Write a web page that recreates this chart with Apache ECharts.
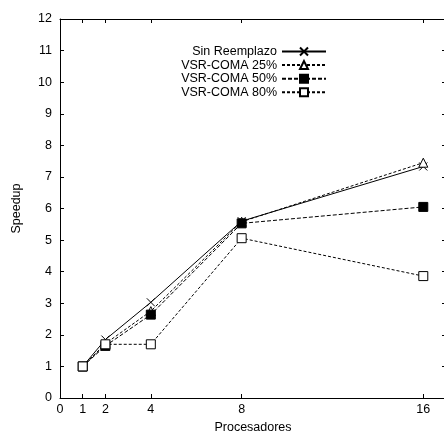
<!DOCTYPE html>
<html>
<head>
<meta charset="utf-8">
<script src="https://cdn.jsdelivr.net/npm/echarts@6/dist/echarts.min.js"></script>
<style>html,body{margin:0;padding:0;background:#fff}#c{width:444px;height:433px}</style>
</head>
<body>
<div id="c"></div>
<script>
const processors = [1, 2, 4, 8, 16];
const xTicks = [0, 1, 2, 4, 8, 16];
const sinReemplazo = [1.0, 1.85, 3.03, 5.6, 7.33];
const vsr25 = [1.0, 1.72, 2.75, 5.58, 7.45];
const vsr50 = [1.0, 1.65, 2.64, 5.53, 6.05];
const vsr80 = [1.0, 1.70, 1.70, 5.06, 3.86];
const seriesNames = ['Sin Reemplazo', 'VSR-COMA 25%', 'VSR-COMA 50%', 'VSR-COMA 80%'];

const font = "'Liberation Sans', Arial, Helvetica, sans-serif";
const fs = 12.5;
const pairs = v => processors.map((p, i) => [p, v[i]]);
const crossPath = 'path://M0,0L10,10M10,0L0,10';

function mk(name, data, lineType, symbol, fill, size) {
  return {
    name, type: 'line', data: pairs(data),
    symbol, symbolSize: size,
    lineStyle: { color: '#000', width: 1, type: lineType },
    itemStyle: { color: fill, borderColor: '#000', borderWidth: 1 },
    emphasis: { disabled: true },
    animation: false
  };
}

const chart = echarts.init(document.getElementById('c'));
const line = { onZero: false, lineStyle: { color: '#000', width: 1 } };
const tick = { inside: true, length: 4, lineStyle: { color: '#000' } };
chart.setOption({
  animation: false,
  grid: { left: 60, top: 19, width: 386, bottom: 35, containLabel: false, outerBoundsMode: 'none' },
  legend: {
    orient: 'vertical', align: 'right', right: 112, top: 40,
    itemWidth: 44, itemHeight: 10, itemGap: 0.6,
    textStyle: { fontFamily: font, fontSize: fs, lineHeight: 12, color: '#000' },
    data: seriesNames, selectedMode: false
  },
  xAxis: [
    {
      type: 'value', min: 0, max: 17, position: 'bottom',
      name: 'Procesadores', nameLocation: 'middle', nameGap: 18,
      nameTextStyle: { fontFamily: font, fontSize: fs, color: '#000' },
      axisLine: line, splitLine: { show: false },
      axisTick: Object.assign({ customValues: xTicks }, tick),
      axisLabel: { customValues: xTicks, fontFamily: font, fontSize: fs, color: '#000', margin: 5 }
    },
    {
      type: 'value', min: 0, max: 17, position: 'top',
      axisLine: line, splitLine: { show: false },
      axisTick: Object.assign({ customValues: xTicks }, tick),
      axisLabel: { show: false, customValues: xTicks }
    }
  ],
  yAxis: [
    {
      type: 'value', min: 0, max: 12, interval: 1, position: 'left',
      name: 'Speedup', nameLocation: 'middle', nameGap: 37,
      nameTextStyle: { fontFamily: font, fontSize: fs, color: '#000' },
      axisLine: line, axisTick: tick, splitLine: { show: false },
      axisLabel: { fontFamily: font, fontSize: fs, color: '#000', margin: 8 }
    },
    {
      type: 'value', min: 0, max: 12, interval: 1, position: 'right',
      axisLine: line, axisTick: tick, splitLine: { show: false },
      axisLabel: { show: false }
    }
  ],
  series: [
    mk(seriesNames[0], sinReemplazo, 'solid', crossPath, 'rgba(0,0,0,0)', 8),
    mk(seriesNames[1], vsr25, [3, 2], 'triangle', '#fff', 9),
    mk(seriesNames[2], vsr50, [4, 2], 'rect', '#000', 9),
    mk(seriesNames[3], vsr80, [3, 2], 'rect', '#fff', 9)
  ]
});
</script>
</body>
</html>
